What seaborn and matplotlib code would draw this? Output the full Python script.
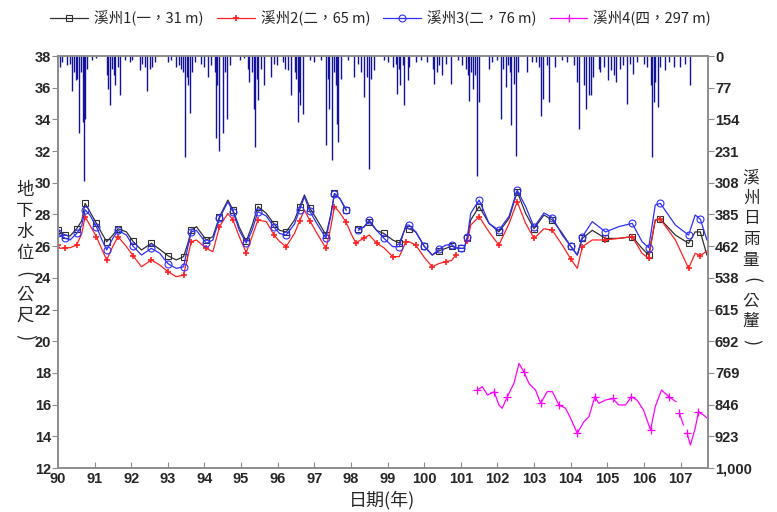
import numpy as np
import pandas as pd
import matplotlib
matplotlib.use("Agg")
import matplotlib.pyplot as plt
from matplotlib.lines import Line2D
import seaborn as sns

nan = np.nan

# 地下水位 (民國年, 公尺) - 溪州1~3 共用日期, nan = 缺測
WL_DATE = [90.0, 90.05, 90.2, 90.33, 90.51, 90.65, 90.74, 90.87, 91.05, 91.2,
           91.33, 91.5, 91.64, 91.87, 92.05, 92.28, 92.55, 92.78, 93.0, 93.23,
           93.43, 93.55, 93.64, 93.78, 94.05, 94.23, 94.41, 94.64, 94.78, 94.95,
           95.14, 95.3, 95.46, 95.69, 95.9, 96.05, 96.23, 96.46, 96.6, 96.73,
           96.88, 97.05, 97.32, 97.45, 97.55, 97.7, 97.87, 98.0, 98.14, 98.2,
           98.35, 98.5, 98.7, 98.9, 99.14, 99.32, 99.5, 99.59, 99.77, 100.0,
           100.22, 100.4, 100.59, 100.75, 100.86, 101.0, 101.09, 101.18, 101.27, 101.5,
           101.77, 102.04, 102.32, 102.54, 102.77, 103.0, 103.27, 103.5, 103.77, 104.0,
           104.18, 104.32, 104.59, 104.95, 105.31, 105.68, 105.95, 106.13, 106.31, 106.45,
           106.86, 107.22, 107.4, 107.54, 107.72]
WL_S1 = [27.0, 26.9, 26.7, 26.64, 27.1, 27.6, 28.7, 28.18, 27.44, 26.8,
         26.28, 26.7, 27.1, 26.9, 26.3, 25.76, 26.18, 25.8, 25.4, 25.13,
         25.34, 26.2, 27.0, 27.23, 26.39, 26.6, 27.86, 28.91, 28.28, 27.2,
         26.3, 27.3, 28.5, 28.07, 27.4, 27.0, 26.9, 27.65, 28.5, 29.23,
         28.4, 27.76, 26.7, 28.0, 29.33, 29.0, 28.28, nan, nan, 27.1,
         27.2, 27.55, 27.0, 26.8, 26.39, 26.2, 27.2, 27.1, 26.9, 26.0,
         25.44, 25.7, 25.86, 26.0, 25.9, 25.86, 25.86, 26.5, 27.65, 28.5,
         27.44, 26.9, 27.76, 29.44, 28.07, 27.1, 27.97, 27.65, 26.81, 26.0,
         25.44, 26.49, 27.0, 26.49, 26.49, 26.6, 25.86, 25.44, 27.65, 27.7,
         26.7, 26.18, 26.9, 26.9, 25.44]
WL_S2 = [26.1, 25.86, 25.9, 25.9, 26.07, 26.8, 27.86, 27.33, 26.6, 25.8,
         25.13, 26.0, 26.6, 25.97, 25.4, 24.7, 25.13, 24.81, 24.4, 24.07,
         24.18, 25.4, 26.28, 26.39, 25.86, 25.65, 27.23, 28.07, 27.65, 26.6,
         25.6, 26.6, 27.65, 27.55, 26.7, 26.3, 25.97, 26.81, 27.6, 28.28,
         27.6, 26.9, 25.86, 27.2, 28.5, 28.1, 27.5, 26.8, 26.18, 26.3,
         26.5, 26.7, 26.2, 25.9, 25.34, 25.34, 26.28, 26.28, 26.07, 25.3,
         24.7, 24.9, 25.02, 25.1, 25.44, nan, nan, 26.3, 27.33, 27.86,
         26.9, 26.07, 27.44, 28.8, 27.44, 26.49, 27.1, 27.0, 26.07, 25.2,
         24.6, 25.97, 26.39, 26.39, 26.49, 26.6, 25.55, 25.23, 27.65, 27.7,
         26.39, 24.6, 25.55, 25.4, 25.7]
WL_S3 = [26.8, 26.7, 26.5, 26.39, 26.8, 27.3, 28.3, 27.97, 27.23, 26.4,
         25.76, 26.5, 27.0, 26.7, 26.0, 25.44, 25.86, 25.55, 24.9, 24.6,
         24.7, 26.0, 26.9, 27.0, 26.18, 26.39, 27.76, 28.8, 28.18, 27.0,
         26.2, 27.0, 28.18, 27.9, 27.2, 26.8, 26.7, 27.4, 28.3, 29.12,
         28.2, 27.5, 26.5, 27.9, 29.3, 29.0, 28.28, nan, nan, 27.0,
         27.2, 27.65, 27.0, 26.5, 25.97, 25.97, 27.33, 27.33, 26.9, 26.0,
         25.44, 25.8, 26.07, 26.1, 25.9, 25.86, 25.86, 26.6, 28.07, 28.91,
         27.44, 27.0, 27.9, 29.54, 28.5, 27.2, 28.1, 27.8, 26.7, 26.0,
         25.44, 26.6, 27.55, 26.9, 27.23, 27.44, 26.28, 25.9, 28.6, 28.7,
         27.33, 26.7, 27.97, 27.7, 26.39]

# 溪州4
S4_DATE = [101.45, 101.59, 101.73, 101.91, 102.04, 102.13, 102.27, 102.45, 102.59, 102.72,
           102.86, 103.04, 103.18, 103.36, 103.5, 103.68, 103.86, 104.0, 104.18, 104.36,
           104.5, 104.66, 104.77, 104.95, 105.15, 105.31, 105.5, 105.66, 105.81, 105.99,
           106.18, 106.31, 106.48, 106.68, 106.88, 106.92, 106.97, 107.08, 107.12, 107.18,
           107.27, 107.4, 107.49, 107.63, 107.74]
S4_LEVEL = [16.92, 17.13, 16.6, 16.82, 15.98, 15.77, 16.5, 17.34, 18.6, 18.08,
            17.34, 16.92, 16.08, 16.82, 16.82, 15.98, 15.77, 15.13, 14.19, 14.92,
            15.24, 16.5, 16.08, 16.29, 16.39, 15.98, 15.98, 16.5, 16.29, 15.66,
            14.4, 15.87, 16.92, 16.5, 16.18, nan, 15.45, 14.71, nan, 14.19,
            13.45, 14.5, 15.55, 15.34, 15.13]

# 溪州日雨量 (民國年, 公釐)
RAIN_DATE = [90.05, 90.10, 90.26, 90.33, 90.39, 90.44, 90.48, 90.53, 90.57, 90.62,
             90.67, 90.71, 90.74, 90.78, 90.94, 91.05, 91.35, 91.37, 91.42, 91.48,
             91.53, 91.57, 91.63, 91.69, 91.83, 91.96, 92.03, 92.23, 92.30, 92.37,
             92.42, 92.51, 92.58, 92.64, 93.01, 93.10, 93.23, 93.30, 93.35, 93.41,
             93.46, 93.51, 93.55, 93.61, 93.66, 93.73, 93.91, 94.00, 94.10, 94.19,
             94.28, 94.32, 94.35, 94.39, 94.50, 94.55, 94.61, 94.71, 94.96, 95.09,
             95.19, 95.23, 95.30, 95.35, 95.38, 95.43, 95.46, 95.55, 95.62, 95.82,
             95.91, 95.99, 96.14, 96.20, 96.28, 96.35, 96.46, 96.50, 96.55, 96.59,
             96.62, 96.68, 96.87, 97.00, 97.18, 97.32, 97.37, 97.41, 97.47, 97.53,
             97.59, 97.62, 97.66, 97.73, 97.91, 98.09, 98.18, 98.27, 98.36, 98.43,
             98.48, 98.55, 98.64, 98.91, 99.00, 99.14, 99.23, 99.27, 99.32, 99.35,
             99.41, 99.46, 99.55, 99.59, 99.77, 99.91, 100.09, 100.23, 100.27, 100.35,
             100.41, 100.50, 100.59, 100.73, 100.91, 101.04, 101.14, 101.20, 101.23, 101.27,
             101.32, 101.39, 101.44, 101.50, 101.77, 101.86, 102.00, 102.11, 102.16, 102.23,
             102.29, 102.34, 102.38, 102.45, 102.52, 102.57, 102.82, 102.95, 103.04, 103.13,
             103.20, 103.25, 103.36, 103.42, 103.56, 103.77, 103.91, 104.09, 104.16, 104.22,
             104.36, 104.42, 104.50, 104.56, 104.61, 104.77, 104.81, 104.90, 105.01, 105.10,
             105.18, 105.24, 105.34, 105.43, 105.54, 105.63, 105.70, 105.81, 105.99, 106.09,
             106.18, 106.22, 106.27, 106.31, 106.38, 106.45, 106.58, 106.68, 106.81, 106.99,
             107.13, 107.25]
RAIN_MM = [27, 15, 22, 19, 86, 39, 59, 55, 187, 39,
           160, 304, 152, 31, 10, 6, 47, 79, 120, 31,
           47, 71, 27, 95, 10, 15, 10, 35, 19, 27,
           86, 31, 27, 15, 15, 10, 27, 22, 31, 39,
           245, 51, 71, 138, 39, 15, 19, 27, 51, 22,
           39, 200, 71, 230, 187, 39, 152, 22, 10, 6,
           31, 63, 39, 128, 222, 55, 107, 31, 71, 51,
           19, 22, 15, 31, 35, 95, 39, 55, 160, 87,
           120, 140, 10, 15, 10, 215, 55, 128, 253, 39,
           71, 164, 209, 55, 10, 51, 19, 39, 100, 51,
           274, 55, 35, 10, 15, 27, 19, 91, 31, 71,
           22, 120, 59, 27, 15, 10, 15, 31, 67, 39,
           22, 47, 19, 69, 10, 22, 31, 47, 108, 39,
           79, 47, 291, 112, 31, 15, 10, 152, 31, 75,
           22, 39, 168, 67, 243, 39, 39, 15, 15, 27,
           146, 104, 22, 112, 27, 10, 15, 22, 63, 178,
           71, 128, 94, 94, 51, 31, 39, 27, 59, 35,
           47, 63, 31, 22, 116, 19, 43, 15, 19, 27,
           71, 245, 112, 63, 124, 27, 35, 15, 27, 27,
           19, 71]

SERIES_LABELS = ["溪州1(一，31 m)", "溪州2(二，65 m)", "溪州3(二，76 m)", "溪州4(四，297 m)"]
YEAR_TICKS = list(range(90, 108))
LEVEL_TICKS = list(range(12, 39, 2))
LEFT_TITLE = "地下水位(公尺)"
RIGHT_TITLE = "溪州日雨量(公釐)"


def to_frame(dates, values):
    # 以 nan 斷開線段
    df = pd.DataFrame({"date": dates, "level": values})
    df["seg"] = df["level"].isna().cumsum()
    return df.dropna()


def vertical_title(fig, text, x_px, y0_px, step_px, family, size):
    # 直書: 每字一行, 括號轉 90 度
    for i, ch in enumerate(text):
        y = 1 - (y0_px + i * step_px) / 512
        if ch in "()":
            fig.text(x_px / 777, y, ch, ha="center", va="center", rotation=-90,
                     fontsize=size + 1, family=family)
        else:
            fig.text(x_px / 777, y, ch, ha="center", va="center",
                     fontsize=size, family=family)


def main():
    sns.set_style("ticks")
    plt.rcParams["font.family"] = ["Liberation Sans", "Noto Sans CJK TC"]
    cjk = ["Noto Sans CJK TC", "DejaVu Sans"]
    gray = "#8c8c8c"

    fig = plt.figure(figsize=(7.77, 5.12), dpi=100)
    ax = fig.add_axes([0.0746, 0.0859, 0.8366, 0.8047])

    styles = [
        dict(color="#303030", marker="s", ms=5, mfc="none", mec="#303030", mew=0.8),
        dict(color="#ff2020", marker="+", ms=5, mfc="#ff2020", mec="#ff2020", mew=1.2),
        dict(color="#2f2fff", marker="o", ms=5, mfc="none", mec="#2f2fff", mew=0.8),
        dict(color="#ff00ff", marker="+", ms=6, mfc="#ff00ff", mec="#ff00ff", mew=0.9),
    ]
    frames = [to_frame(WL_DATE, WL_S1), to_frame(WL_DATE, WL_S2),
              to_frame(WL_DATE, WL_S3), to_frame(S4_DATE, S4_LEVEL)]
    for df, st, every in zip(frames, styles, [2, 2, 2, 3]):
        sns.lineplot(data=df, x="date", y="level", units="seg", estimator=None,
                     sort=False, lw=0.9, markevery=every, ax=ax, legend=False, **st)

    ax.set_xlim(90, 107.75)
    ax.set_ylim(12, 38)
    ax.set_xticks(YEAR_TICKS)
    ax.set_yticks(LEVEL_TICKS)
    ax.set_xlabel("")
    ax.set_ylabel("")
    ax.tick_params(axis="x", direction="in", length=4, color=gray, pad=3)
    ax.tick_params(axis="y", direction="out", length=4, color=gray, pad=1)
    for lab in ax.get_xticklabels() + ax.get_yticklabels():
        lab.set_fontweight("bold")
        lab.set_fontsize(10.5)

    # 雨量 (右軸, 由上往下)
    ax2 = ax.twinx()
    ax2.vlines(RAIN_DATE, 0, RAIN_MM, color="#12129a", lw=1.0)
    ax2.set_ylim(1000, 0)
    rain_ticks = [1000 * k / 13 for k in range(14)]
    ax2.set_yticks(rain_ticks)
    ax2.set_yticklabels([f"{round(v):,}" for v in rain_ticks], fontweight="bold", fontsize=10.5)
    ax2.tick_params(axis="y", direction="out", length=4, color=gray, pad=1)
    for a in (ax, ax2):
        for sp in a.spines.values():
            sp.set_color(gray)
            sp.set_linewidth(1.2)

    handles = [Line2D([], [], lw=0.9, **st) for st in styles]
    fig.legend(handles, SERIES_LABELS, loc="center", bbox_to_anchor=(0.49, 0.965),
               ncol=4, frameon=False, handlelength=2.6, handletextpad=0.4,
               columnspacing=0.9, prop={"family": cjk, "size": 10.5})

    fig.text(382 / 777, 1 - 500 / 512, "日期(年)", ha="center", va="center",
             fontsize=13, family=cjk)
    vertical_title(fig, LEFT_TITLE, 25, 190, 21, cjk, 12.5)
    vertical_title(fig, RIGHT_TITLE, 751, 178, 20.5, cjk, 12)

    fig.savefig("out.png", dpi=100)


if __name__ == "__main__":
    main()
